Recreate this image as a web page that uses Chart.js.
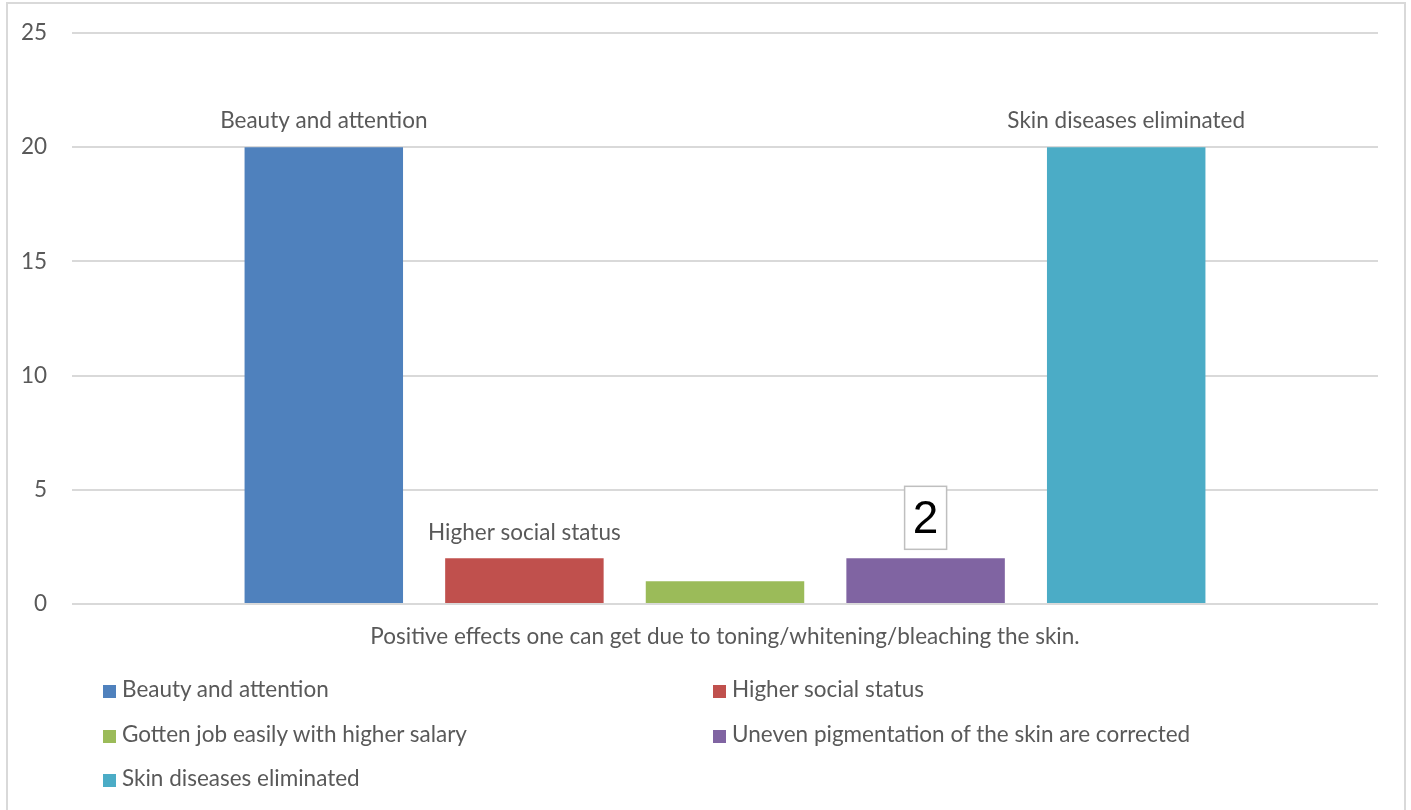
<!DOCTYPE html>
<html>
<head>
<meta charset="utf-8">
<script src="https://cdn.jsdelivr.net/npm/chart.js@4"></script>
<style>
  html, body { margin: 0; padding: 0; background: #fff; width: 1411px; height: 810px; overflow: hidden; }
  #frame { position: absolute; left: 6px; top: 2px; width: 1396px; height: 830px; border: 2px solid #d9d9d9; }
  #wrap { position: absolute; left: 0; top: 0; width: 1411px; height: 664px; }
  #legend { position: absolute; left: 0; top: 0; width: 1411px; height: 810px; pointer-events: none;
    font-family: Lato, "Open Sans", sans-serif; font-size: 22.5px; color: #595959; }
  .item { position: absolute; height: 24px; line-height: 24px; white-space: nowrap; }
  .item span.box { display: inline-block; width: 13px; height: 13px; margin-right: 6px; vertical-align: -1px; }
</style>
</head>
<body>
<div id="frame"></div>
<div id="wrap"><canvas id="chart"></canvas></div>
<div id="legend"></div>
<script>
// data
const categories = ["Positive effects one can get due to toning/whitening/bleaching the skin."];
const seriesNames = [
  "Beauty and attention",
  "Higher social status",
  "Gotten job easily with higher salary",
  "Uneven pigmentation of the skin are corrected",
  "Skin diseases eliminated"
];
const seriesValues = [20, 2, 1, 2, 20];
const seriesColors = ["#4f81bd", "#c0504d", "#9bbb59", "#8064a2", "#4bacc6"];
const yTicks = [0, 5, 10, 15, 20, 25];
// which label each bar shows: series name, value in a box, or nothing
const labelKinds = ["name", "name", "none", "value", "name"];

const textColor = "#595959";
const labelFont = "22.5px Lato, 'Open Sans', sans-serif";

// bar labels, placed from the bar elements
const barLabels = {
  id: "barLabels",
  afterDatasetsDraw(chart) {
    const ctx = chart.ctx;
    ctx.save();
    chart.data.datasets.forEach((ds, i) => {
      const bar = chart.getDatasetMeta(i).data[0];
      const kind = labelKinds[i];
      if (kind === "name") {
        ctx.font = labelFont;
        ctx.fillStyle = textColor;
        ctx.textAlign = "center";
        ctx.textBaseline = "middle";
        ctx.fillText(ds.label, bar.x, bar.y - 26);
      } else if (kind === "value") {
        const w = 42, h = 63;
        const bx = bar.x - w / 2, by = bar.y - 9 - h;
        ctx.fillStyle = "#fff";
        ctx.fillRect(bx, by, w, h);
        ctx.strokeStyle = "#bfbfbf";
        ctx.lineWidth = 1.5;
        ctx.strokeRect(bx, by, w, h);
        ctx.font = "46px 'Liberation Sans', Arial, sans-serif";
        ctx.fillStyle = "#000";
        ctx.textAlign = "center";
        ctx.textBaseline = "middle";
        ctx.fillText(String(ds.data[0]), bar.x, by + h / 2 + 2);
      }
    });
    ctx.restore();
  }
};

const datasets = seriesNames.map((name, i) => ({
  label: name,
  data: [seriesValues[i]],
  backgroundColor: seriesColors[i],
  borderWidth: 0,
  barPercentage: 0.79,
  categoryPercentage: 0.768
}));

new Chart(document.getElementById("chart"), {
  type: "bar",
  data: { labels: categories, datasets: datasets },
  plugins: [barLabels],
  options: {
    responsive: true,
    maintainAspectRatio: false,
    animation: false,
    layout: { padding: { top: 33, right: 33, left: 0, bottom: 0 } },
    plugins: {
      legend: { display: false },
      tooltip: { enabled: false }
    },
    scales: {
      x: {
        grid: { display: false, drawTicks: false },
        border: { display: false },
        ticks: {
          color: textColor,
          font: { family: "Lato, 'Open Sans', sans-serif", size: 22.5 },
          padding: 19,
          maxRotation: 0
        },
        afterFit(scale) { scale.height = 60; }
      },
      y: {
        min: yTicks[0],
        max: yTicks[yTicks.length - 1],
        afterBuildTicks(scale) { scale.ticks = yTicks.map(v => ({ value: v })); },
        grid: { color: "#d9d9d9", lineWidth: 2, drawTicks: false },
        border: { display: false },
        ticks: {
          color: textColor,
          font: { family: "Lato, 'Open Sans', sans-serif", size: 22.5 },
          padding: 25
        },
        afterFit(scale) {
          scale.width = 72;
          // tick padding is horizontal here, keep it out of the top/bottom margins
          scale.paddingTop = 14;
          scale.paddingBottom = 14;
        }
      }
    }
  }
});

// legend in two columns below the chart
const legend = document.getElementById("legend");
const colX = [103, 713];
const rowY = [677, 722, 766];
seriesNames.forEach((name, i) => {
  const el = document.createElement("div");
  el.className = "item";
  el.style.left = colX[i % 2] + "px";
  el.style.top = rowY[Math.floor(i / 2)] + "px";
  el.innerHTML = '<span class="box" style="background:' + seriesColors[i] + '"></span>' + name;
  legend.appendChild(el);
});
</script>
</body>
</html>
